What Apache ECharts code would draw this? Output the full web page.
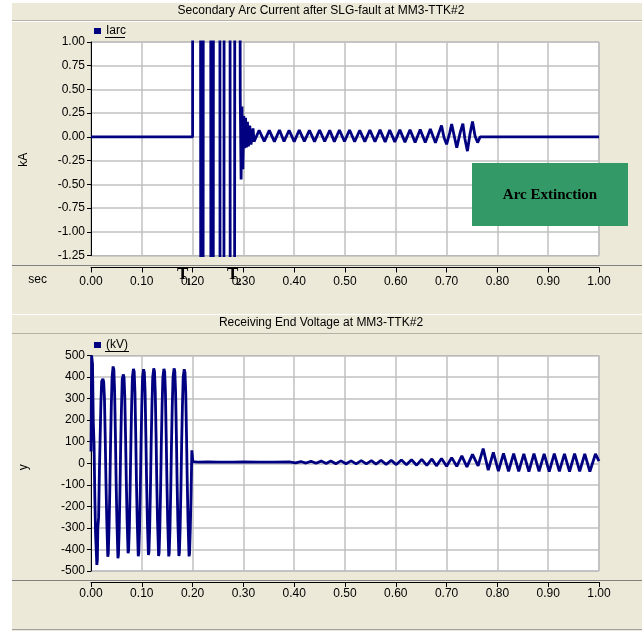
<!DOCTYPE html>
<html><head><meta charset="utf-8">
<script src="https://cdn.jsdelivr.net/npm/echarts@6/dist/echarts.min.js"></script>
<style>html,body{margin:0;padding:0;background:#fff}#main{width:642px;height:631px}</style>
</head><body><div id="main"></div>
<script>
// ---------- data ----------
const xTicks = [0, 0.1, 0.2, 0.3, 0.4, 0.5, 0.6, 0.7, 0.8, 0.9, 1.0];
const iarcTicks = [-1.25, -1.0, -0.75, -0.5, -0.25, 0, 0.25, 0.5, 0.75, 1.0];
const voltTicks = [-500, -400, -300, -200, -100, 0, 100, 200, 300, 400, 500];

// Secondary arc current (kA) — time (s)
const iarcTime = [0, 0.2, 0.2003, 0.2155, 0.2162, 0.2205, 0.2212, 0.2355, 0.2362, 0.2405, 0.2412,
  0.2535, 0.2542, 0.2615, 0.2622, 0.2735, 0.2742, 0.2825, 0.2832, 0.2925,
  0.2938, 0.2955, 0.2972, 0.2990, 0.3008, 0.3025, 0.3042, 0.3060, 0.3080, 0.3100, 0.3125, 0.3150, 0.3190, 0.3210,
  0.331, 0.341, 0.351, 0.361, 0.371, 0.380, 0.390, 0.400, 0.410, 0.420, 0.430, 0.440, 0.450, 0.460,
  0.470, 0.479, 0.489, 0.499, 0.509, 0.519, 0.529, 0.539, 0.549, 0.559, 0.569, 0.579, 0.588, 0.598,
  0.608, 0.618, 0.628, 0.638, 0.648, 0.658, 0.668, 0.678, 0.684, 0.690, 0.695, 0.700, 0.706, 0.710,
  0.715, 0.720, 0.727, 0.732, 0.736, 0.741, 0.746, 0.751, 0.756, 0.761, 0.766, 1.0];
const iarcValue = [0, 0, 4, 4, -4, -4, 4, 4, -4, -4, 4,
  4, -4, -4, 4, 4, -4, -4, 4, 4,
  0.42, -0.45, 0.32, -0.34, 0.22, -0.12, 0.20, -0.11, 0.16, -0.10, 0.12, -0.08, 0.09, -0.05,
  0.070, -0.048, 0.068, -0.050, 0.072, -0.048, 0.070, -0.050, 0.072, -0.048, 0.070, -0.050, 0.072, -0.049,
  0.070, -0.050, 0.072, -0.049, 0.072, -0.051, 0.070, -0.050, 0.072, -0.051, 0.074, -0.053, 0.072, -0.053,
  0.074, -0.055, 0.076, -0.058, 0.077, -0.059, 0.082, -0.063, 0.030, 0.120, -0.010, -0.078, 0.040, 0.135,
  0.010, -0.114, 0.050, 0.140, -0.020, -0.150, 0.030, 0.163, 0.010, -0.060, 0.0, 0.0];

// Receiving end voltage (kV) — time (s)
const voltTime = [0, 0.0012, 0.003, 0.0045, 0.006, 0.0075, 0.009, 0.0115, 0.0125, 0.0135, 0.015, 0.0165, 0.018, 0.0195, 0.021,
  0.0235, 0.025, 0.0265, 0.028, 0.0295, 0.031, 0.033, 0.034, 0.0355, 0.037, 0.0385, 0.040, 0.0415,
  0.0435, 0.045, 0.0465, 0.048, 0.0495, 0.051, 0.053, 0.054, 0.0555, 0.057, 0.0585, 0.060, 0.0615,
  0.0635, 0.065, 0.0665, 0.068, 0.0695, 0.071, 0.073, 0.074, 0.0755, 0.077, 0.0785, 0.080, 0.0815,
  0.0835, 0.085, 0.0865, 0.088, 0.0895, 0.091, 0.093, 0.094, 0.0955, 0.097, 0.0985, 0.100, 0.1015,
  0.1035, 0.105, 0.1065, 0.108, 0.1095, 0.111, 0.113, 0.114, 0.1155, 0.117, 0.1185, 0.120, 0.1215,
  0.1235, 0.125, 0.1265, 0.128, 0.1295, 0.131, 0.133, 0.134, 0.1355, 0.137, 0.1385, 0.140, 0.1415,
  0.1435, 0.145, 0.1465, 0.148, 0.1495, 0.151, 0.153, 0.154, 0.1555, 0.157, 0.1585, 0.160, 0.1615,
  0.1635, 0.165, 0.1665, 0.168, 0.1695, 0.171, 0.173, 0.174, 0.1755, 0.177, 0.1785, 0.180, 0.1815,
  0.1835, 0.185, 0.1865, 0.188, 0.1895, 0.191, 0.193, 0.194, 0.1955, 0.197, 0.1985, 0.1995, 0.2005,
  0.21, 0.23, 0.25, 0.28, 0.30, 0.33, 0.36, 0.39,
  0.403, 0.413, 0.423, 0.433, 0.443, 0.453, 0.463, 0.472, 0.482, 0.492, 0.502, 0.512, 0.522, 0.532,
  0.542, 0.552, 0.561, 0.571, 0.581, 0.591, 0.601, 0.611, 0.621, 0.631, 0.641, 0.651, 0.661, 0.671,
  0.680, 0.690, 0.700, 0.710, 0.720, 0.730, 0.740, 0.751, 0.762, 0.772, 0.782, 0.792, 0.802, 0.812,
  0.822, 0.832, 0.842, 0.852, 0.862, 0.872, 0.882, 0.892, 0.902, 0.912, 0.922, 0.932, 0.942, 0.952,
  0.962, 0.972, 0.982, 0.993, 1.0];
const voltValue = [55, 500, 460, 190, 90, -150, -330, -472, -450, -300, -250, -40, 120, 280, 380,
  392, 378, 300, 120, -90, -260, -434, -420, -300, -130, 90, 270, 400,
  449, 435, 330, 140, -90, -270, -441, -425, -310, -130, 90, 260, 390,
  412, 400, 310, 130, -80, -260, -418, -405, -300, -120, 90, 270, 400,
  438, 425, 330, 140, -90, -270, -431, -418, -310, -130, 90, 270, 400,
  436, 422, 330, 130, -90, -270, -426, -412, -300, -120, 100, 270, 400,
  440, 426, 330, 140, -90, -270, -430, -416, -300, -120, 100, 270, 400,
  438, 424, 330, 130, -90, -270, -432, -418, -300, -120, 100, 270, 400,
  440, 426, 330, 140, -90, -270, -430, -416, -300, -120, 100, 270, 400,
  436, 422, 330, 130, -90, -270, -432, -420, -300, -140, 60, 52, 8,
  5, 6, 5, 5, 6, 5, 5, 6,
  2, 8, 1, 9, 0, 10, -1, 10, -2, 11, -2, 11, -3, 12,
  -3, 12, -4, 13, -5, 13, -6, 15, -7, 16, -9, 18, -10, 20,
  -12, 22, -14, 26, -14, 34, -17, 41, -12, 68, -32, 50, -36, 46,
  -38, 45, -38, 44, -39, 45, -38, 44, -39, 45, -38, 44, -39, 45,
  -38, 44, -39, 43, 10];

// ---------- chart ----------
const BEIGE = '#ECE9D8';
const NAVY = '#000080';
const GRIDC = '#c0c0c0';
const FONT = 'Liberation Sans, Arial, sans-serif';
const SERIF = 'Liberation Serif, Times New Roman, serif';

const iarcData = iarcTime.map((t, i) => [t, iarcValue[i]]);
const voltData = voltTime.map((t, i) => [t, voltValue[i]]);

const chart = echarts.init(document.getElementById('main'), null, {renderer: 'canvas', width: 642, height: 631});

function xAxisCfg(gridIndex, offset, name, margin) {
  return {
    type: 'value', gridIndex, min: xTicks[0], max: xTicks[xTicks.length - 1], interval: 0.1,
    offset, position: 'bottom',
    name: name, nameLocation: 'start', nameGap: 44,
    nameTextStyle: {color: '#000', fontSize: 12, fontFamily: FONT, verticalAlign: 'top', padding: [6, 0, 0, 0]},
    axisLine: {show: true, onZero: false, lineStyle: {color: '#000', width: 1}},
    axisTick: {show: true, inside: false, length: 5, lineStyle: {color: '#000'}},
    axisLabel: {color: '#000', fontSize: 12, fontFamily: FONT, margin, showMinLabel: true, showMaxLabel: true,
      formatter: v => v.toFixed(2)},
    splitLine: {show: true, lineStyle: {color: GRIDC, width: 1.5}}
  };
}
function yAxisCfg(gridIndex, ticks, interval, name, pad, fmt) {
  return {
    type: 'value', gridIndex, min: ticks[0], max: ticks[ticks.length - 1], interval,
    name, nameLocation: 'middle', nameGap: 61, nameRotate: 90,
    nameTextStyle: {color: '#000', fontSize: 12, fontFamily: FONT, padding: pad},
    axisLine: {show: true, onZero: false, lineStyle: {color: '#000', width: 1}},
    axisTick: {show: true, inside: false, length: 4, lineStyle: {color: '#000'}},
    axisLabel: {color: '#000', fontSize: 12, fontFamily: FONT, margin: 6, showMinLabel: true, showMaxLabel: true,
      formatter: fmt},
    splitLine: {show: true, lineStyle: {color: GRIDC, width: 1.5}}
  };
}

const option = {
  backgroundColor: BEIGE,
  animation: false,
  title: [
    {text: 'Secondary Arc Current after SLG-fault at MM3-TTK#2', left: 'center', top: 5, padding: [0, 0, 0, 10],
      textStyle: {color: '#000', fontSize: 12, fontWeight: 'normal', fontFamily: FONT}},
    {text: 'Receiving End Voltage at MM3-TTK#2', left: 'center', top: 317, padding: [0, 0, 0, 10],
      textStyle: {color: '#000', fontSize: 12, fontWeight: 'normal', fontFamily: FONT}}
  ],
  legend: [
    {data: ['Iarc'], left: 94, top: 25, icon: 'rect', itemWidth: 7, itemHeight: 6, padding: 0,
      textStyle: {color: '#000', fontSize: 12, fontFamily: FONT}},
    {data: ['(kV)'], left: 94, top: 339, icon: 'rect', itemWidth: 7, itemHeight: 6, padding: 0,
      textStyle: {color: '#000', fontSize: 12, fontFamily: FONT}}
  ],
  grid: [
    {left: 91, top: 42, width: 508, height: 213.5, show: true, backgroundColor: '#fff', borderColor: '#a0a0a0', borderWidth: 1},
    {left: 91, top: 355.5, width: 508, height: 215.5, show: true, backgroundColor: '#fff', borderColor: '#a0a0a0', borderWidth: 1}
  ],
  xAxis: [xAxisCfg(0, 12, 'sec', 8), xAxisCfg(1, 11, '', 6)],
  yAxis: [
    yAxisCfg(0, iarcTicks, 0.25, 'kA', [0, 22, 0, 0], v => v.toFixed(2)),
    yAxisCfg(1, voltTicks, 100, 'y', [0, 8, 0, 0], v => String(v))
  ],
  series: [
    {name: 'Iarc', type: 'line', xAxisIndex: 0, yAxisIndex: 0, data: iarcData, showSymbol: false, clip: true,
      lineStyle: {color: NAVY, width: 2.8}, itemStyle: {color: NAVY}},
    {name: '(kV)', type: 'line', xAxisIndex: 1, yAxisIndex: 1, data: voltData, showSymbol: false, clip: true,
      lineStyle: {color: NAVY, width: 2.8}, itemStyle: {color: NAVY}}
  ],
  graphic: [
    {type: 'rect', shape: {x: 0, y: 0, width: 12, height: 631}, style: {fill: '#fff'}, z: 100},
    {type: 'rect', shape: {x: 12, y: 0, width: 630, height: 3}, style: {fill: '#fff'}, z: 100},
    // separators
    {type: 'line', shape: {x1: 12, y1: 20.5, x2: 642, y2: 20.5}, style: {stroke: '#b5b2a4', lineWidth: 1}, z: 100},
    {type: 'line', shape: {x1: 12, y1: 21.5, x2: 642, y2: 21.5}, style: {stroke: '#fff', lineWidth: 1}, z: 100},
    {type: 'line', shape: {x1: 12, y1: 265.5, x2: 642, y2: 265.5}, style: {stroke: '#808080', lineWidth: 1}, z: 100},
    {type: 'line', shape: {x1: 12, y1: 314.5, x2: 642, y2: 314.5}, style: {stroke: '#fff', lineWidth: 1}, z: 100},
    {type: 'line', shape: {x1: 12, y1: 333.5, x2: 642, y2: 333.5}, style: {stroke: '#b5b2a4', lineWidth: 1}, z: 100},
    {type: 'line', shape: {x1: 12, y1: 580.5, x2: 642, y2: 580.5}, style: {stroke: '#808080', lineWidth: 1}, z: 100},
    {type: 'line', shape: {x1: 12, y1: 629.5, x2: 642, y2: 629.5}, style: {stroke: '#a0a0a0', lineWidth: 1}, z: 100},
    // legend underlines
    {type: 'line', shape: {x1: 105, y1: 37.5, x2: 125, y2: 37.5}, style: {stroke: '#000', lineWidth: 1}, z: 100},
    {type: 'line', shape: {x1: 105, y1: 351.5, x2: 129, y2: 351.5}, style: {stroke: '#000', lineWidth: 1}, z: 100},
    // T1, T2 markers
    {type: 'text', x: 177, y: 266, z: 100, style: {text: 'T', fill: '#000', font: 'bold 17px ' + SERIF, textVerticalAlign: 'top'}},
    {type: 'text', x: 186, y: 277, z: 100, style: {text: '1', fill: '#000', font: 'bold 11px ' + SERIF, textVerticalAlign: 'top'}},
    {type: 'text', x: 227, y: 266, z: 100, style: {text: 'T', fill: '#000', font: 'bold 17px ' + SERIF, textVerticalAlign: 'top'}},
    {type: 'text', x: 236, y: 277, z: 100, style: {text: '2', fill: '#000', font: 'bold 11px ' + SERIF, textVerticalAlign: 'top'}},
    // Arc extinction annotation
    {type: 'rect', z: 100, shape: {x: 472, y: 163, width: 156, height: 63}, style: {fill: '#339966'}},
    {type: 'text', z: 101, x: 550, y: 195, style: {text: 'Arc Extinction', fill: '#000', font: 'bold 15px ' + SERIF,
      textAlign: 'center', textVerticalAlign: 'middle'}}
  ]
};
chart.setOption(option);
</script>
</body></html>
